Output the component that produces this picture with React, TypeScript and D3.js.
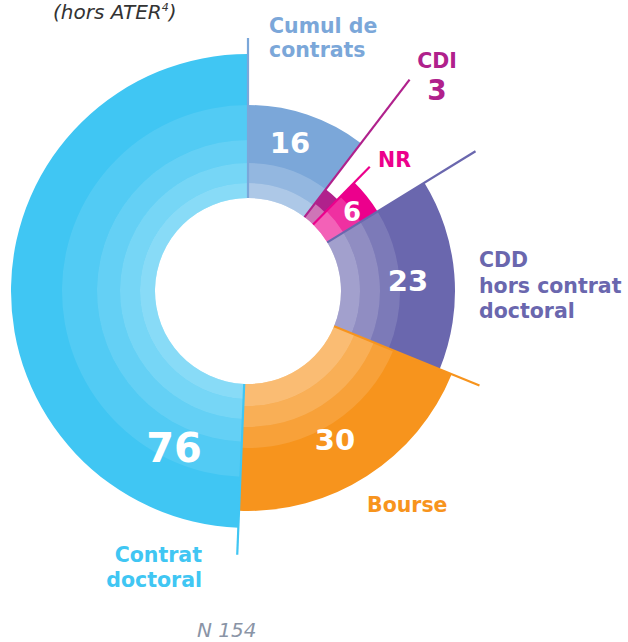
import React from 'react';
import * as d3 from 'd3';

// ---- data ----
const categories = ['Cumul de contrats', 'CDI', 'NR', 'CDD hors contrat doctoral', 'Bourse', 'Contrat doctoral'];
const values = [16, 3, 6, 23, 30, 76];
const totalLabel = 'N 154';
const subtitle = '(hors ATER';

// ---- styles ----
const colors = ['#7BA7D9', '#B0218C', '#EC008C', '#6A67AE', '#F7941D', '#40C6F3'];
const outerR = [186, 128, 152, 207, 220, 237];
const bandEdges = [
  [93, 108, 128],
  [93, 110],
  [93, 112, 132],
  [93, 112, 132, 152],
  [93, 115, 136, 157],
  [93, 108, 128, 151, 186],
];
const lineR = [253, 266, 174, 267, 250, 264];
const innerR = 93;
const cx = 248;
const cy = 291;
const FONT = '"DejaVu Sans", Verdana, sans-serif';

export default function App() {
  const pie = d3.pie<number>().sort(null).value((d) => d);
  const arcs = pie(values);
  const arc = d3.arc<any>();

  const pt = (a: number, r: number) => [cx + r * Math.sin(a), cy - r * Math.cos(a)];

  return (
    <svg width={628} height={642} style={{ position: 'absolute', left: 0, top: 0 }} fontFamily={FONT}>
      <g transform={`translate(${cx},${cy})`}>
        {arcs.map((a, i) => (
          <g key={i}>
            <path
              d={arc({ innerRadius: innerR, outerRadius: outerR[i], startAngle: a.startAngle, endAngle: a.endAngle }) as string}
              fill={colors[i]}
            />
            {bandEdges[i].slice(0, -1).map((e, j, arr) => {
              const k = arr.length;
              return (
                <path
                  key={j}
                  d={arc({ innerRadius: e, outerRadius: bandEdges[i][j + 1], startAngle: a.startAngle, endAngle: a.endAngle }) as string}
                  fill="#fff"
                  opacity={(0.38 * (k - j)) / k}
                />
              );
            })}
          </g>
        ))}
      </g>
      {arcs.map((a, i) => {
        const [x1, y1] = pt(a.startAngle, innerR);
        const [x2, y2] = pt(a.startAngle, lineR[i]);
        return <line key={i} x1={x1} y1={y1} x2={x2} y2={y2} stroke={colors[i]} strokeWidth={2.2} />;
      })}

      {/* value labels */}
      <g fill="#fff" fontWeight="bold" textAnchor="middle">
        <text x={290} y={153} fontSize={29}>{values[0]}</text>
        <text x={352} y={221} fontSize={26}>{values[2]}</text>
        <text x={408} y={291} fontSize={29}>{values[3]}</text>
        <text x={335} y={450} fontSize={29}>{values[4]}</text>
        <text x={174} y={462} fontSize={40}>{values[5]}</text>
      </g>

      {/* category labels */}
      <g fontWeight="bold" fontSize={20.5}>
        <text x={269} y={33} fill={colors[0]}>
          <tspan x={269} y={33}>Cumul de</tspan>
          <tspan x={269} y={57}>contrats</tspan>
        </text>
        <text x={437} y={68} fill={colors[1]} textAnchor="middle">{categories[1]}</text>
        <text x={437} y={100} fill={colors[1]} textAnchor="middle" fontSize={28}>{values[1]}</text>
        <text x={378} y={167} fill={colors[2]}>{categories[2]}</text>
        <text fill={colors[3]}>
          <tspan x={479} y={267}>CDD</tspan>
          <tspan x={479} y={293}>hors contrat</tspan>
          <tspan x={479} y={318}>doctoral</tspan>
        </text>
        <text x={367} y={512} fill={colors[4]}>{categories[4]}</text>
        <text fill={colors[5]} textAnchor="end">
          <tspan x={202} y={562}>Contrat</tspan>
          <tspan x={202} y={587}>doctoral</tspan>
        </text>
      </g>

      <text x={53} y={19} fontSize={20} fontStyle="italic" fill="#333">
        {subtitle}
        <tspan fontSize={11} dy={-8}>4</tspan>
        <tspan dy={8}>)</tspan>
      </text>
      <text x={197} y={637} fontSize={20} fontStyle="italic" fill="#8A94A6">{totalLabel}</text>
    </svg>
  );
}
